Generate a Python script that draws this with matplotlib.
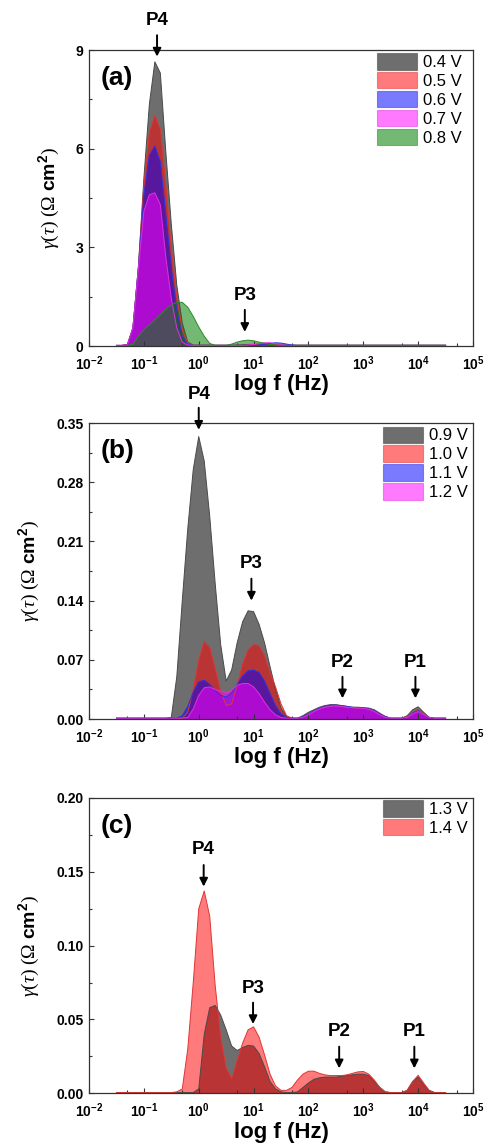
import numpy as np
import matplotlib.pyplot as plt
from matplotlib.patches import Patch
from matplotlib.ticker import FixedLocator, AutoMinorLocator

plt.rcParams['font.family'] = ['Liberation Sans', 'DejaVu Sans']
plt.rcParams['mathtext.fontset'] = 'custom'
plt.rcParams['mathtext.rm'] = 'Liberation Serif'
plt.rcParams['mathtext.it'] = 'Liberation Serif:italic'
plt.rcParams['mathtext.bf'] = 'Liberation Sans:bold'

log_f = [-1.5, -1.4, -1.3, -1.2, -1.1, -1.0, -0.9, -0.8, -0.7, -0.6,
         -0.5, -0.4, -0.3, -0.2, -0.1, 0.0, 0.1, 0.2, 0.3, 0.4,
         0.5, 0.6, 0.7, 0.8, 0.9, 1.0, 1.1, 1.2, 1.3, 1.4,
         1.5, 1.6, 1.7, 1.8, 1.9, 2.0, 2.1, 2.2, 2.3, 2.4,
         2.5, 2.6, 2.7, 2.8, 2.9, 3.0, 3.1, 3.2, 3.3, 3.4,
         3.5, 3.6, 3.7, 3.8, 3.9, 4.0, 4.1, 4.2, 4.3, 4.4, 4.5]

# panel (a), gamma in Ohm cm2
g_04 = [0.02, 0.02, 0.05, 0.55, 2.4, 5.1, 7.35, 8.64, 8.3, 5.9,
        3.7, 1.85, 0.7, 0.12, 0.03, 0.03, 0.03, 0.03, 0.03, 0.03,
        0.03, 0.03, 0.03, 0.04, 0.05, 0.05, 0.05, 0.05, 0.05, 0.04,
        0.03, 0.03, 0.03, 0.03, 0.03, 0.03, 0.03, 0.03, 0.03, 0.03,
        0.03, 0.03, 0.03, 0.03, 0.03, 0.03, 0.03, 0.03, 0.03, 0.03,
        0.03, 0.03, 0.03, 0.03, 0.03, 0.03, 0.03, 0.03, 0.03, 0.03, 0.03]
g_05 = [0.02, 0.02, 0.05, 0.55, 2.4, 4.9, 6.5, 7.02, 6.6, 4.9,
        3.0, 1.5, 0.5, 0.08, 0.02, 0.02, 0.02, 0.02, 0.02, 0.02,
        0.02, 0.02, 0.02, 0.02, 0.03, 0.04, 0.06, 0.08, 0.07, 0.04,
        0.02, 0.02, 0.02, 0.02, 0.02, 0.02, 0.02, 0.02, 0.02, 0.02,
        0.02, 0.02, 0.02, 0.02, 0.02, 0.02, 0.02, 0.02, 0.02, 0.02,
        0.02, 0.02, 0.02, 0.02, 0.02, 0.02, 0.02, 0.02, 0.02, 0.02, 0.02]
g_06 = [0.02, 0.02, 0.04, 0.55, 2.4, 4.6, 5.8, 6.08, 5.6, 4.0,
        2.4, 1.1, 0.3, 0.05, 0.02, 0.02, 0.02, 0.02, 0.02, 0.02,
        0.02, 0.02, 0.02, 0.02, 0.02, 0.02, 0.03, 0.05, 0.08, 0.1,
        0.09, 0.06, 0.03, 0.02, 0.02, 0.02, 0.02, 0.02, 0.02, 0.02,
        0.02, 0.02, 0.02, 0.02, 0.02, 0.02, 0.02, 0.02, 0.02, 0.02,
        0.02, 0.02, 0.02, 0.02, 0.02, 0.02, 0.02, 0.02, 0.02, 0.02, 0.02]
g_07 = [0.02, 0.02, 0.04, 0.55, 2.35, 4.1, 4.6, 4.66, 4.3, 2.7,
        1.45, 0.55, 0.12, 0.03, 0.02, 0.02, 0.02, 0.02, 0.02, 0.02,
        0.02, 0.02, 0.02, 0.02, 0.03, 0.05, 0.08, 0.1, 0.1, 0.07,
        0.04, 0.02, 0.02, 0.02, 0.02, 0.02, 0.02, 0.02, 0.02, 0.02,
        0.02, 0.02, 0.02, 0.02, 0.02, 0.02, 0.02, 0.02, 0.02, 0.02,
        0.02, 0.02, 0.02, 0.02, 0.02, 0.02, 0.02, 0.02, 0.02, 0.02, 0.02]
g_08 = [0.0, 0.0, 0.02, 0.05, 0.3, 0.5, 0.65, 0.8, 0.95, 1.12,
        1.25, 1.33, 1.33, 1.18, 0.9, 0.58, 0.3, 0.08, 0.02, 0.02,
        0.02, 0.06, 0.12, 0.16, 0.18, 0.16, 0.12, 0.08, 0.05, 0.03,
        0.02, 0.02, 0.02, 0.02, 0.02, 0.02, 0.02, 0.02, 0.02, 0.02,
        0.02, 0.02, 0.02, 0.02, 0.02, 0.02, 0.02, 0.02, 0.02, 0.02,
        0.02, 0.02, 0.02, 0.02, 0.02, 0.02, 0.02, 0.02, 0.02, 0.02, 0.02]

# panel (b)
g_09 = [0.001, 0.001, 0.001, 0.001, 0.001, 0.001, 0.001, 0.001, 0.001, 0.001,
        0.002, 0.05, 0.14, 0.225, 0.295, 0.334, 0.305, 0.24, 0.16, 0.088,
        0.045, 0.058, 0.09, 0.115, 0.128, 0.127, 0.112, 0.09, 0.062, 0.035,
        0.013, 0.003, 0.001, 0.001, 0.004, 0.008, 0.011, 0.014, 0.016, 0.017,
        0.017, 0.016, 0.015, 0.014, 0.014, 0.0135, 0.013, 0.011, 0.007, 0.003,
        0.001, 0.001, 0.001, 0.004, 0.011, 0.0145, 0.008, 0.002, 0.001, 0.001, 0.001]
g_10 = [0.001, 0.001, 0.001, 0.001, 0.001, 0.001, 0.001, 0.001, 0.001, 0.001,
        0.001, 0.001, 0.001, 0.008, 0.035, 0.07, 0.092, 0.085, 0.06, 0.033,
        0.016, 0.018, 0.04, 0.065, 0.082, 0.088, 0.087, 0.075, 0.055, 0.038,
        0.018, 0.004, 0.001, 0.001, 0.003, 0.006, 0.01, 0.013, 0.015, 0.016,
        0.016, 0.015, 0.014, 0.0135, 0.013, 0.013, 0.012, 0.01, 0.006, 0.003,
        0.001, 0.001, 0.001, 0.003, 0.008, 0.011, 0.006, 0.002, 0.001, 0.001, 0.001]
g_11 = [0.001, 0.001, 0.001, 0.001, 0.001, 0.001, 0.001, 0.001, 0.001, 0.001,
        0.001, 0.001, 0.004, 0.015, 0.032, 0.044, 0.046, 0.041, 0.034, 0.028,
        0.026, 0.031, 0.041, 0.051, 0.057, 0.058, 0.055, 0.045, 0.03, 0.016,
        0.006, 0.002, 0.001, 0.001, 0.003, 0.006, 0.01, 0.013, 0.015, 0.0165,
        0.0165, 0.016, 0.015, 0.014, 0.0135, 0.013, 0.012, 0.01, 0.006, 0.003,
        0.001, 0.001, 0.001, 0.002, 0.007, 0.01, 0.005, 0.002, 0.001, 0.001, 0.001]
g_12 = [0.001, 0.001, 0.001, 0.001, 0.001, 0.001, 0.001, 0.001, 0.001, 0.001,
        0.001, 0.001, 0.001, 0.002, 0.012, 0.028, 0.037, 0.038, 0.035, 0.033,
        0.031, 0.034, 0.04, 0.042, 0.042, 0.038, 0.03, 0.02, 0.011, 0.005,
        0.002, 0.001, 0.001, 0.001, 0.002, 0.005, 0.009, 0.012, 0.014, 0.015,
        0.0155, 0.015, 0.014, 0.0135, 0.013, 0.0125, 0.0115, 0.009, 0.005, 0.002,
        0.001, 0.001, 0.001, 0.002, 0.006, 0.009, 0.005, 0.002, 0.001, 0.001, 0.001]

# panel (c)
g_13 = [0.0005, 0.0005, 0.0005, 0.0005, 0.0005, 0.0005, 0.0005, 0.0005, 0.0005, 0.0005,
        0.0005, 0.0005, 0.0005, 0.0005, 0.0005, 0.003, 0.04, 0.058, 0.0595, 0.053,
        0.043, 0.032, 0.029, 0.031, 0.0325, 0.032, 0.027, 0.018, 0.008, 0.003,
        0.001, 0.0005, 0.0005, 0.001, 0.004, 0.007, 0.0095, 0.0105, 0.011, 0.011,
        0.011, 0.0115, 0.012, 0.0125, 0.013, 0.013, 0.012, 0.008, 0.004, 0.001,
        0.0005, 0.0005, 0.0005, 0.002, 0.008, 0.011, 0.006, 0.002, 0.0005, 0.0005, 0.0005]
g_14 = [0.0005, 0.0005, 0.0005, 0.0005, 0.0005, 0.0005, 0.0005, 0.0005, 0.0005, 0.0005,
        0.0005, 0.001, 0.003, 0.03, 0.075, 0.125, 0.137, 0.12, 0.073, 0.038,
        0.017, 0.01, 0.022, 0.034, 0.043, 0.045, 0.038, 0.026, 0.013, 0.005,
        0.002, 0.002, 0.004, 0.009, 0.013, 0.015, 0.015, 0.0135, 0.0125, 0.012,
        0.012, 0.012, 0.0125, 0.0135, 0.0145, 0.0148, 0.013, 0.009, 0.004, 0.001,
        0.0005, 0.0005, 0.0005, 0.002, 0.008, 0.0122, 0.007, 0.002, 0.0005, 0.0005, 0.0005]

labels_a = ['0.4 V', '0.5 V', '0.6 V', '0.7 V', '0.8 V']
labels_b = ['0.9 V', '1.0 V', '1.1 V', '1.2 V']
labels_c = ['1.3 V', '1.4 V']

x_tick_labels = [r'$\mathbf{10^{-2}}$', r'$\mathbf{10^{-1}}$', r'$\mathbf{10^{0}}$',
                 r'$\mathbf{10^{1}}$', r'$\mathbf{10^{2}}$', r'$\mathbf{10^{3}}$',
                 r'$\mathbf{10^{4}}$', r'$\mathbf{10^{5}}$']
yticks_a = [0, 3, 6, 9]
yticks_b = [0.00, 0.07, 0.14, 0.21, 0.28, 0.35]
yticks_c = [0.00, 0.05, 0.10, 0.15, 0.20]

# fill colour, alpha, edge colour
GRAY = ('#000000', 0.57, '#4a4a4a')
RED = ('#ff0000', 0.52, '#e03535')
BLUE = ('#0000ff', 0.52, '#3030e0')
MAG = ('#ff00ff', 0.52, '#e030e0')
GREEN = ('#008000', 0.55, '#2a8a2a')

freq = 10.0 ** np.array(log_f)


def draw_panel(ax, curves, labels, styles, yticks, ytick_fmt, tag, leg_anchor, arrows):
    for vals, lab, (fc, a, ec) in zip(curves, labels, styles):
        ax.fill_between(freq, vals, 0, facecolor=fc, alpha=a, lw=0)
        ax.plot(freq, vals, color=ec, lw=0.7)

    ax.set_xscale('log')
    ax.set_xlim(1e-2, 1e5)
    ax.set_ylim(yticks[0], yticks[-1])
    ax.xaxis.set_major_locator(FixedLocator([10.0 ** k for k in range(-2, 6)]))
    ax.set_xticklabels(x_tick_labels)
    ax.xaxis.set_minor_locator(FixedLocator([5 * 10.0 ** k for k in range(-2, 5)]))
    ax.set_yticks(yticks)
    ax.set_yticklabels([ytick_fmt.format(v) for v in yticks])
    ax.yaxis.set_minor_locator(AutoMinorLocator(2))
    ax.tick_params(which='both', direction='in', top=False, right=False,
                   width=0.8, color='#333333', labelsize=10)
    ax.tick_params(axis='x', pad=6)
    ax.tick_params(axis='y', pad=4)
    ax.tick_params(which='major', length=3.5)
    ax.tick_params(which='minor', length=2)
    for lab in ax.get_xticklabels() + ax.get_yticklabels():
        lab.set_fontweight('bold')
    for sp in ax.spines.values():
        sp.set_linewidth(0.9)
        sp.set_color('#333333')

    ax.set_xlabel('log f (Hz)', fontsize=16, fontweight='bold', labelpad=1)
    ax.set_ylabel(r'$\gamma(\tau)\ (\Omega\ \mathbf{cm^{2}})$', fontsize=14, labelpad=10)
    ax.text(0.03, 0.905, tag, transform=ax.transAxes, fontsize=19,
            fontweight='bold', va='center', ha='left')

    handles = [Patch(facecolor=fc, alpha=a, edgecolor=ec, lw=0.8) for fc, a, ec in styles]
    ax.legend(handles, labels, loc='upper right', bbox_to_anchor=leg_anchor,
              frameon=False, fontsize=12, handlelength=2.4, handleheight=1.15,
              handletextpad=0.35, labelspacing=0.12, borderpad=0, borderaxespad=0)

    for name, lf, y_txt, y_tail, y_tip in arrows:
        f = 10.0 ** lf
        ax.annotate('', xy=(f, y_tip), xytext=(f, y_tail), annotation_clip=False,
                    arrowprops=dict(arrowstyle='-|>', color='black', lw=1.4,
                                    mutation_scale=12, shrinkA=0, shrinkB=0))
        ax.text(f, y_txt, name, ha='center', va='center', fontsize=13.5,
                fontweight='bold', clip_on=False)


fig = plt.figure(figsize=(4.87, 11.47), dpi=100)
ax_a = fig.add_axes([0.1828, 0.6983, 0.7885, 0.2581])
ax_b = fig.add_axes([0.1828, 0.3731, 0.7885, 0.2581])
ax_c = fig.add_axes([0.1828, 0.0468, 0.7885, 0.2575])

draw_panel(ax_a, [g_04, g_05, g_06, g_07, g_08], labels_a,
           [GRAY, RED, BLUE, MAG, GREEN], yticks_a, '{:.0f}', '(a)', (0.971, 0.99),
           [('P4', -0.76, 9.9, 9.45, 8.8), ('P3', 0.84, 1.55, 1.1, 0.43)])
draw_panel(ax_b, [g_09, g_10, g_11, g_12], labels_b,
           [GRAY, RED, BLUE, MAG], yticks_b, '{:.2f}', '(b)', (0.987, 0.988),
           [('P4', 0.0, 0.384, 0.368, 0.342), ('P3', 0.96, 0.184, 0.166, 0.14),
            ('P2', 2.62, 0.0666, 0.05, 0.0245), ('P1', 3.95, 0.0666, 0.05, 0.0245)])
draw_panel(ax_c, [g_13, g_14], labels_c,
           [GRAY, RED], yticks_c, '{:.2f}', '(c)', (0.987, 0.993),
           [('P4', 0.09, 0.165, 0.1546, 0.14), ('P3', 0.99, 0.0711, 0.0614, 0.0469),
            ('P2', 2.56, 0.0417, 0.0316, 0.0169), ('P1', 3.93, 0.0417, 0.0316, 0.0169)])

fig.savefig('out.png', dpi=100)
